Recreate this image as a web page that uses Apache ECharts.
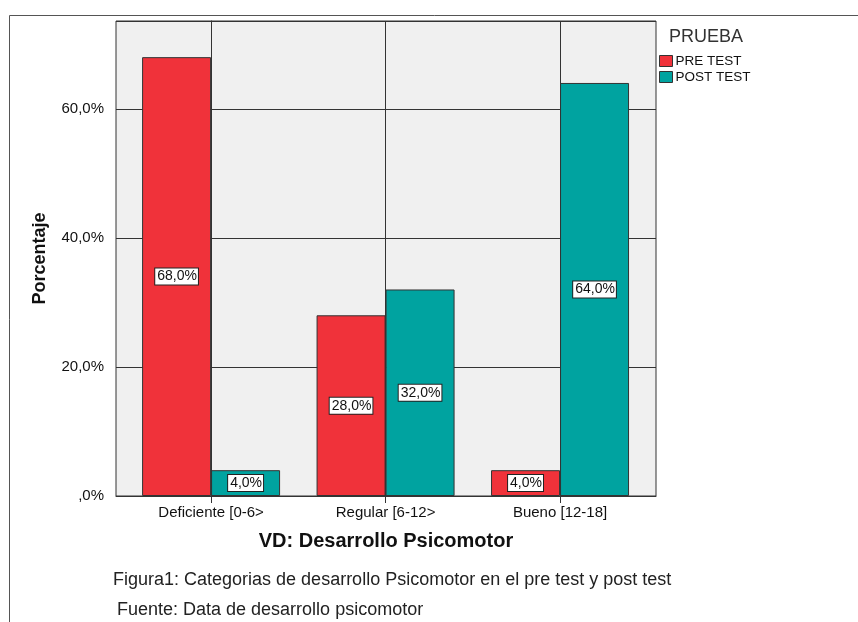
<!DOCTYPE html>
<html>
<head>
<meta charset="utf-8">
<script src="https://cdn.jsdelivr.net/npm/echarts@6/dist/echarts.min.js"></script>
<style>
html,body{margin:0;padding:0;background:#fff;}
#chart{width:858px;height:622px;}
</style>
</head>
<body>
<div id="chart"></div>
<script>
const categories = ['Deficiente [0-6>', 'Regular [6-12>', 'Bueno [12-18]'];
const seriesNames = ['PRE TEST', 'POST TEST'];
const preTest = [68.0, 28.0, 4.0];
const postTest = [4.0, 32.0, 64.0];
const yTicks = [0, 20, 40, 60];

const chart = echarts.init(document.getElementById('chart'), null, {renderer: 'canvas'});
const font = '"Liberation Sans", Arial, sans-serif';

function pct(v) {
  return v === 0 ? ',0%' : v.toFixed(1).replace('.', ',') + '%';
}

const labelStyle = {
  show: true,
  position: 'inside',
  formatter: p => pct(p.value[1]),
  color: '#111',
  fontFamily: font,
  fontSize: 14,
  lineHeight: 13,
  backgroundColor: '#fff',
  borderColor: '#222',
  borderWidth: 1,
  padding: [2, 1, 1, 2]
};

chart.setOption({
  animation: false,
  textStyle: {fontFamily: font},
  graphic: [{
    type: 'rect',
    shape: {x: 9.5, y: 15.5, width: 900, height: 700},
    style: {fill: 'none', stroke: '#555', lineWidth: 1},
    silent: true,
    z: -10
  }],
  title: [
    {text: 'PRUEBA', left: 664, top: 23, textStyle: {fontSize: 18, fontWeight: 'normal', color: '#333', fontFamily: font}},
    {text: 'Figura1: Categorias de desarrollo Psicomotor en el pre test y post test', left: 108, top: 566,
     textStyle: {fontSize: 18, fontWeight: 'normal', color: '#222', fontFamily: font}},
    {text: 'Fuente: Data de desarrollo psicomotor', left: 112, top: 596,
     textStyle: {fontSize: 18, fontWeight: 'normal', color: '#222', fontFamily: font}}
  ],
  legend: {
    data: seriesNames,
    orient: 'vertical',
    left: 654,
    top: 49,
    itemWidth: 13,
    itemHeight: 11,
    itemGap: 2,
    icon: 'rect',
    itemStyle: {borderColor: '#333', borderWidth: 1},
    textStyle: {fontSize: 13.5, lineHeight: 13, color: '#111', fontFamily: font, padding: [0, 0, 0, -2]}
  },
  grid: {
    left: 116, right: 858 - 656, top: 21, bottom: 622 - 496,
    show: true, backgroundColor: '#f0f0f0', borderColor: '#333', borderWidth: 1,
    containLabel: false
  },
  xAxis: {
    type: 'value',
    min: -0.545,
    max: 2.55,
    name: 'VD: Desarrollo Psicomotor',
    nameLocation: 'middle',
    nameGap: 35,
    nameTextStyle: {fontSize: 20, fontWeight: 'bold', color: '#111', fontFamily: font},
    axisLine: {show: true, lineStyle: {color: '#333'}},
    axisTick: {show: true, customValues: [0, 1, 2], length: 7, lineStyle: {color: '#333'}},
    axisLabel: {customValues: [0, 1, 2], formatter: v => categories[Math.round(v)], color: '#111', fontSize: 15, margin: 9, fontFamily: font},
    splitLine: {show: true, lineStyle: {color: '#333', width: 1}}
  },
  yAxis: {
    type: 'value',
    min: 0,
    max: 73.6,
    interval: 20,
    name: 'Porcentaje',
    nameLocation: 'middle',
    nameGap: 67,
    nameRotate: 90,
    nameTextStyle: {fontSize: 18, fontWeight: 'bold', color: '#111', fontFamily: font},
    axisLine: {show: true, lineStyle: {color: '#333'}},
    axisTick: {show: true, length: 11, lineStyle: {color: '#333'}},
    axisLabel: {
      formatter: v => (yTicks.indexOf(v) >= 0 ? pct(v) : ''),
      color: '#111', fontSize: 15, margin: 12, fontFamily: font
    },
    splitLine: {show: true, lineStyle: {color: '#333', width: 1}}
  },
  series: [
    {
      name: seriesNames[0],
      type: 'bar',
      data: preTest.map((v, i) => [i, v]),
      barWidth: 69,
      barGap: '0%',
      itemStyle: {color: '#f0323a', borderColor: '#333', borderWidth: 1},
      label: labelStyle
    },
    {
      name: seriesNames[1],
      type: 'bar',
      data: postTest.map((v, i) => [i, v]),
      barWidth: 69,
      barGap: '0%',
      itemStyle: {color: '#00a3a0', borderColor: '#333', borderWidth: 1},
      label: labelStyle
    }
  ]
});
</script>
</body>
</html>
